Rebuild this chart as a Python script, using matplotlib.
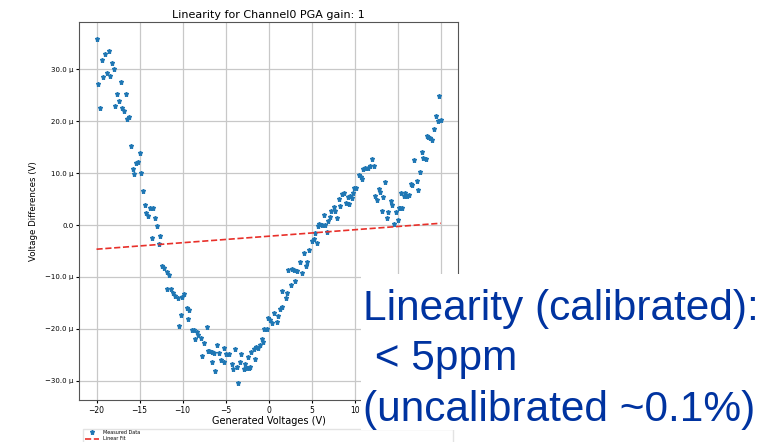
import numpy as np
import matplotlib
matplotlib.use("Agg")
import matplotlib.pyplot as plt
from matplotlib.ticker import EngFormatter, MultipleLocator
from matplotlib.patches import Rectangle

# generated voltages (V) and measured differences (uV)
gen_v = [-20.0, -19.85, -19.6, -19.4, -19.2, -19.0, -18.8, -18.6, -18.4, -18.2,
         -18.0, -17.8, -17.6, -17.4, -17.2, -17.0, -16.8, -16.6, -16.4, -16.2,
         -16.0, -15.8, -15.6, -15.4, -15.2, -15.0, -14.8, -14.6, -14.4, -14.2,
         -14.0, -13.8, -13.6, -13.45, -13.2, -13.0, -12.75, -12.6, -12.4, -12.2,
         -11.85, -11.8, -11.6, -11.4, -11.1, -10.9, -10.5, -10.4, -10.2, -10.1,
         -9.8, -9.5, -9.35, -9.2, -8.95, -8.65, -8.55, -8.3, -8.2, -7.9,
         -7.7, -7.5, -7.2, -7.1, -6.9, -6.6, -6.55, -6.3, -6.2, -6.0,
         -5.8, -5.5, -5.2, -5.15, -4.9, -4.55, -4.3, -4.1, -3.9, -3.7,
         -3.5, -3.3, -3.15, -2.85, -2.7, -2.5, -2.45, -2.3, -2.15, -2.0,
         -1.75, -1.55, -1.45, -1.2, -0.98, -0.8, -0.7, -0.55, -0.23, -0.05,
         0.2, 0.35, 0.6, 1.0, 1.1, 1.3, 1.5, 1.6, 2.0, 2.1,
         2.3, 2.6, 2.7, 3.0, 3.1, 3.3, 3.6, 3.9, 4.15, 4.3,
         4.45, 4.7, 5.0, 5.3, 5.35, 5.6, 5.7, 5.9, 6.2, 6.4,
         6.6, 6.75, 6.9, 7.15, 7.25, 7.6, 7.7, 7.9, 8.2, 8.3,
         8.5, 8.75, 9.0, 9.2, 9.3, 9.5, 9.65, 9.8, 9.9, 10.2,
         10.5, 10.7, 10.85, 11.0, 11.2, 11.5, 11.75, 12.0, 12.2, 12.35,
         12.55, 12.8, 12.95, 13.2, 13.35, 13.5, 13.75, 13.9, 14.2, 14.35,
         14.6, 14.8, 15.0, 15.1, 15.3, 15.4, 15.5, 15.7, 15.9, 16.1,
         16.3, 16.5, 16.7, 16.9, 17.2, 17.4, 17.6, 17.8, 17.95, 18.25,
         18.4, 18.55, 18.8, 19.0, 19.25, 19.4, 19.65, 19.85, 20.0]
diff_uv = [35.8, 27.2, 22.6, 31.9, 28.5, 32.9, 29.3, 33.5, 28.7, 31.3,
           30.0, 22.9, 25.3, 24.0, 27.5, 22.6, 21.9, 25.3, 20.5, 20.9,
           15.3, 10.8, 9.8, 11.9, 12.2, 13.9, 10.1, 6.6, 3.9, 2.3,
           1.7, 3.3, -2.5, 3.2, 1.3, -0.2, -3.7, -2.1, -7.8, -8.3,
           -12.3, -9.0, -9.7, -12.4, -13.0, -13.7, -14.1, -19.5, -17.3, -13.9,
           -13.3, -15.9, -18.1, -16.4, -20.2, -20.3, -21.9, -20.7, -21.1, -21.8,
           -25.3, -22.7, -19.6, -24.2, -24.2, -24.4, -26.4, -24.7, -28.1, -23.2,
           -24.6, -26.0, -26.3, -23.7, -24.8, -24.8, -26.7, -27.7, -23.9, -27.3,
           -30.4, -26.4, -24.8, -27.7, -26.7, -27.5, -25.5, -27.5, -27.3, -24.4,
           -23.9, -25.9, -23.5, -23.7, -23.1, -21.9, -22.6, -20.1, -20.1, -18.0,
           -18.2, -18.9, -17.0, -18.6, -17.6, -16.1, -12.8, -15.7, -14.1, -13.0,
           -8.6, -11.6, -8.5, -8.6, -10.8, -8.8, -7.1, -9.2, -5.4, -7.8,
           -7.1, -4.9, -3.0, -2.6, -1.5, -3.4, -0.1, 0.3, 0.05, 1.9,
           0.05, -1.3, 0.7, 1.6, 2.7, 3.5, 2.8, 1.35, 5.0, 3.6,
           5.9, 6.2, 4.3, 5.5, 4.1, 5.6, 5.3, 6.1, 7.2, 7.2,
           9.6, 9.2, 8.8, 10.8, 10.9, 11.0, 11.3, 12.7, 11.3, 5.6,
           4.8, 6.9, 6.4, 2.8, 5.5, 8.3, 1.3, 2.5, 4.6, 3.9,
           0.25, 2.6, 0.9, 3.2, 3.35, 6.2, 3.3, 5.6, 6.1, 5.6,
           5.8, 8.0, 7.7, 12.5, 8.5, 6.8, 10.3, 14.0, 12.9, 12.7,
           17.2, 17.0, 16.8, 16.4, 18.5, 21.0, 20.0, 24.9, 20.3]

# linear fit (uV per V, uV)
fit_slope = 0.125
fit_offset = -2.15

note_lines = ["Linearity (calibrated):", " < 5ppm", "(uncalibrated ~0.1%)"]

x = np.array(gen_v)
y = np.array(diff_uv) * 1e-6
fit_x = np.array([min(gen_v), max(gen_v)])
fit_y = (fit_slope * fit_x + fit_offset) * 1e-6

fig = plt.figure(figsize=(7.79, 4.42), dpi=100)
ax = fig.add_axes([0.1018, 0.095, 0.486, 0.855])

ax.plot(x, y, '*', color='#1f77b4', markersize=3.6, label='Measured Data')
ax.plot(fit_x, fit_y, '--', color='#e8302a', linewidth=1.2, label='Linear Fit')

ax.set_title('Linearity for Channel0 PGA gain: 1', fontsize=8, pad=3)
ax.set_xlabel('Generated Voltages (V)', fontsize=7, labelpad=1)
ax.set_ylabel('Voltage Differences (V)', fontsize=6.2, labelpad=5)
ax.yaxis.set_major_locator(MultipleLocator(10e-6))
ax.yaxis.set_major_formatter(EngFormatter(places=1))
ax.xaxis.set_major_locator(MultipleLocator(5))
ax.tick_params(axis='x', labelsize=5.5, length=2.5, pad=1.5)
ax.tick_params(axis='y', labelsize=5, length=2.5, pad=1.5)
ax.grid(True, color='#c8c8c8', linewidth=0.9)
for s in ax.spines.values():
    s.set_color('#555555')
    s.set_linewidth(0.8)

ax.legend(loc='upper left', bbox_to_anchor=(0.104, 0.036, 0.48, 0.0),
          bbox_transform=fig.transFigure, mode='expand', fontsize=3.5,
          frameon=True, fancybox=False, edgecolor='#dddddd', borderpad=0.3,
          handlelength=3, labelspacing=0.3)

fig.canvas.draw()
# the 15 and 20 tick labels sit under the white text box
for lbl in ax.get_xticklabels():
    if lbl.get_position()[0] > 12:
        lbl.set_visible(False)

# white text box over the lower right part of the chart
fig.patches.append(Rectangle((0.4634, 0.027), 0.54, 0.352, transform=fig.transFigure,
                             facecolor='white', edgecolor='none', zorder=10))
for i, line in enumerate(note_lines):
    fig.text(0.466, 0.302 - i * 0.115, line, fontsize=30.5, color='#0033a0',
             family='Liberation Sans', va='center', ha='left', zorder=11)

fig.savefig('out.png', dpi=100)
